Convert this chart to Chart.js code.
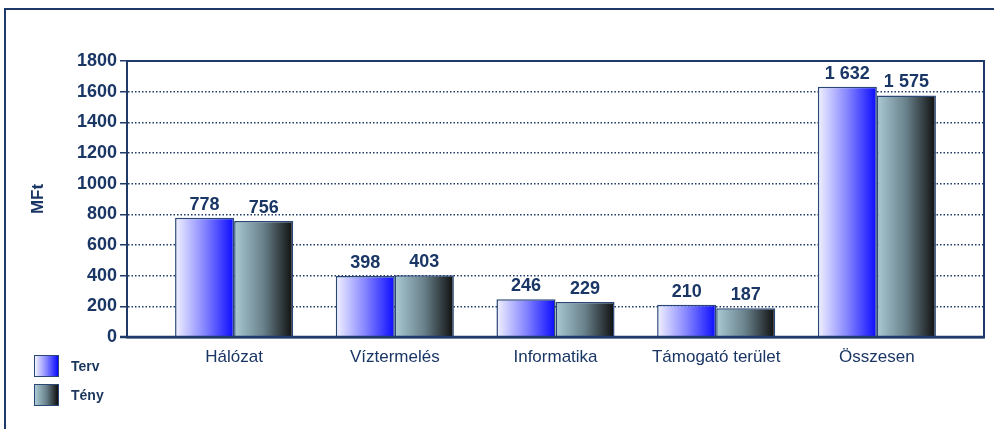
<!DOCTYPE html>
<html>
<head>
<meta charset="utf-8">
<script src="https://cdn.jsdelivr.net/npm/chart.js@4"></script>
<style>
  html, body { margin: 0; padding: 0; background: #fff; }
  #wrap { position: relative; width: 994px; height: 429px; overflow: hidden; }
  #frame { position: absolute; left: 4px; top: 8px; right: -10px; bottom: -10px;
           border-top: 2px solid #1f3a68; border-left: 2px solid #1f3a68; }
  #legend { position: absolute; left: 34px; top: 355px; font: bold 14px "Liberation Sans", Arial, sans-serif; color: #1b365d; }
  .item { display: flex; align-items: center; height: 22px; margin-bottom: 7px; }
  .box { width: 23px; height: 20px; border: 1.5px solid #2a4876; margin-right: 12px; }
</style>
</head>
<body>
<div id="wrap">
  <div id="frame"></div>
  <canvas id="chart" width="994" height="429"></canvas>
  <div id="legend"></div>
</div>
<script>
const categories = ['Hálózat', 'Víztermelés', 'Informatika', 'Támogató terület', 'Összesen'];
const tervValues = [778, 398, 246, 210, 1632];
const tenyValues = [756, 403, 229, 187, 1575];
const seriesNames = ['Terv', 'Tény'];
const yTitle = 'MFt';

const navy = '#1a3665';
const font = '"Liberation Sans", Arial, sans-serif';

// gradient stops for the bars (left -> right)
const tervStops = [[0, '#f2f2ff'], [0.5, '#8585ff'], [1, '#0a0aff']];
const tenyStops = [[0, '#aacad3'], [0.5, '#68808a'], [1, '#0e0e0e']];

const fmt = v => String(v).replace(/\B(?=(\d{3})+(?!\d))/g, ' ');

const gradientBars = {
  id: 'gradientBars',
  beforeDatasetsDraw(chart) {
    const ctx = chart.ctx;
    chart.data.datasets.forEach((ds, i) => {
      chart.getDatasetMeta(i).data.forEach(bar => {
        const g = ctx.createLinearGradient(bar.x - bar.width / 2, 0, bar.x + bar.width / 2, 0);
        ds.stops.forEach(([o, c]) => g.addColorStop(o, c));
        bar.options.backgroundColor = g;
      });
    });
  }
};

const valueLabels = {
  id: 'valueLabels',
  afterDatasetsDraw(chart) {
    const ctx = chart.ctx;
    ctx.save();
    ctx.font = 'bold 18px ' + font;
    ctx.fillStyle = navy;
    ctx.textAlign = 'center';
    ctx.textBaseline = 'bottom';
    chart.data.datasets.forEach((ds, i) => {
      chart.getDatasetMeta(i).data.forEach((bar, j) => {
        ctx.fillText(fmt(ds.data[j].y), bar.x, bar.y - 4);
      });
    });
    ctx.restore();
  }
};

const plotFrame = {
  id: 'plotFrame',
  afterDraw(chart) {
    const { ctx, chartArea: a } = chart;
    ctx.save();
    ctx.strokeStyle = '#1f3a68';
    ctx.lineWidth = 2;
    ctx.beginPath();
    ctx.moveTo(a.left, a.top);
    ctx.lineTo(a.right, a.top);
    ctx.lineTo(a.right, a.bottom);
    ctx.stroke();
    ctx.lineWidth = 2.5;
    ctx.beginPath();
    ctx.moveTo(a.left - 7, a.bottom);
    ctx.lineTo(a.right, a.bottom);
    ctx.stroke();
    ctx.restore();
  }
};

const chart = new Chart(document.getElementById('chart'), {
  type: 'bar',
  data: {
    datasets: [
      {
        label: seriesNames[0],
        data: tervValues.map((v, i) => ({ x: i, y: v })),
        stops: tervStops,
        backgroundColor: () => '#8585ff',
        borderColor: '#2a4876',
        borderWidth: 1.5
      },
      {
        label: seriesNames[1],
        data: tenyValues.map((v, i) => ({ x: i, y: v })),
        stops: tenyStops,
        backgroundColor: () => '#68808a',
        borderColor: '#2a4876',
        borderWidth: 1.5
      }
    ]
  },
  options: {
    responsive: false,
    animation: false,
    devicePixelRatio: 1,
    categoryPercentage: 0.735,
    barPercentage: 1,
    layout: { padding: { left: 0, top: 61, right: 10, bottom: 0 } },
    plugins: {
      legend: { display: false },
      tooltip: { enabled: false }
    },
    scales: {
      x: {
        type: 'linear',
        offset: false,
        min: -0.6667,
        max: 4.6667,
        grid: { display: false, offset: false },
        border: { color: '#1f3a68', width: 2.5 },
        ticks: {
          stepSize: 1,
          includeBounds: false,
          autoSkip: false,
          maxRotation: 0,
          padding: 2,
          color: navy,
          font: { family: font, size: 17 },
          callback: v => categories[v] ?? ''
        },
        afterFit: s => { s.height = 92; }
      },
      y: {
        min: 0,
        max: 1800,
        grid: { color: '#1f3a68', lineWidth: 1.5, tickLength: 7 },
        border: { color: '#1f3a68', width: 2, dash: [1.5, 2] },
        ticks: {
          stepSize: 200,
          padding: 3,
          color: navy,
          font: { family: font, size: 18, weight: 'bold' },
          callback: v => String(v)
        },
        title: {
          display: true,
          text: yTitle,
          color: navy,
          font: { family: font, size: 17, weight: 'bold' },
          padding: { top: 28, bottom: 0 }
        },
        afterFit: s => { s.width = 127; }
      }
    }
  },
  plugins: [gradientBars, valueLabels, plotFrame]
});

// legend
const legend = document.getElementById('legend');
chart.data.datasets.forEach(ds => {
  const stops = ds.stops.map(([o, c]) => c + ' ' + (o * 100) + '%').join(', ');
  const item = document.createElement('div');
  item.className = 'item';
  item.innerHTML = '<div class="box" style="background: linear-gradient(to right, ' + stops + ')"></div><span>' + ds.label + '</span>';
  legend.appendChild(item);
});
</script>
</body>
</html>
